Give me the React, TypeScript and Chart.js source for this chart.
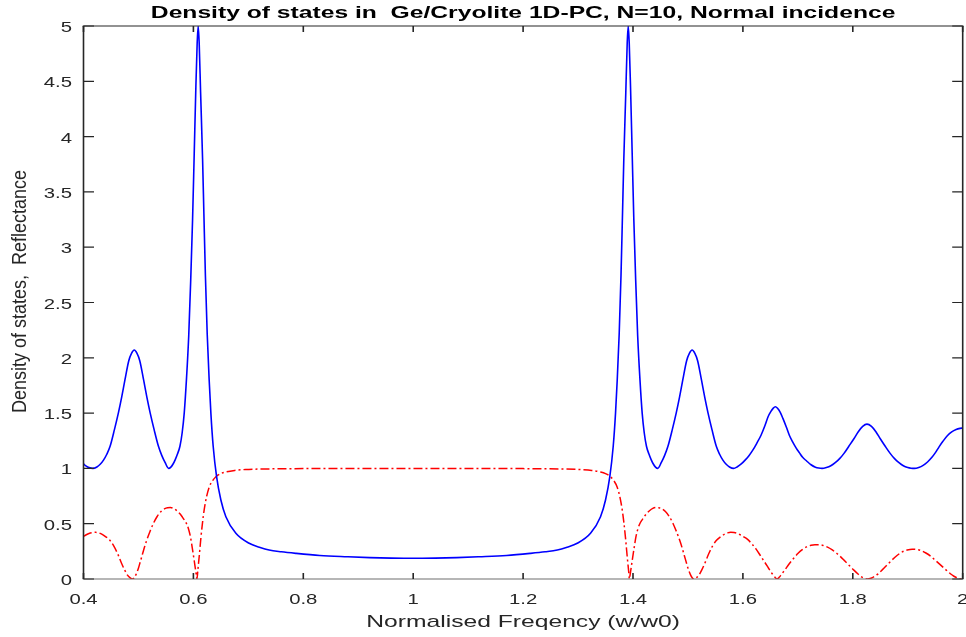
import React, { useEffect, useRef } from 'react';
import { Chart, registerables } from 'chart.js';

Chart.register(...registerables);

// Density of states (blue, solid)
const dosX = [
  0.4000, 0.4050, 0.4100, 0.4170, 0.4244, 0.4304, 0.4364, 0.4424, 0.4484, 0.4564,
  0.4634, 0.4694, 0.4754, 0.4824, 0.4874, 0.4924, 0.4974, 0.5024, 0.5094, 0.5154,
  0.5214, 0.5284, 0.5364, 0.5424, 0.5484, 0.5550, 0.5590, 0.5630, 0.5670, 0.5710,
  0.5755, 0.5795, 0.5833, 0.5873, 0.5915, 0.5951, 0.5985, 0.6015, 0.6045, 0.6069,
  0.6087, 0.6105, 0.6131, 0.6167, 0.6191, 0.6218, 0.6251, 0.6287, 0.6318, 0.6360,
  0.6422, 0.6500, 0.6591, 0.6773, 0.7015, 0.7200, 0.7378, 0.7600, 0.7864, 0.8300,
  0.8800, 0.9209, 0.9600, 1.0000, 1.0400, 1.0791, 1.1200, 1.1700, 1.2136, 1.2400,
  1.2622, 1.2800, 1.2985, 1.3227, 1.3409, 1.3500, 1.3578, 1.3640, 1.3682, 1.3713,
  1.3749, 1.3782, 1.3809, 1.3833, 1.3869, 1.3895, 1.3913, 1.3931, 1.3955, 1.3985,
  1.4015, 1.4049, 1.4085, 1.4127, 1.4167, 1.4205, 1.4245, 1.4290, 1.4330, 1.4370,
  1.4410, 1.4450, 1.4516, 1.4576, 1.4636, 1.4716, 1.4786, 1.4846, 1.4906, 1.4976,
  1.5026, 1.5076, 1.5126, 1.5176, 1.5246, 1.5306, 1.5366, 1.5436, 1.5516, 1.5576,
  1.5636, 1.5696, 1.5756, 1.5830, 1.5900, 1.5970, 1.6040, 1.6110, 1.6180, 1.6250,
  1.6330, 1.6400, 1.6460, 1.6510, 1.6550, 1.6590, 1.6630, 1.6680, 1.6730, 1.6790,
  1.6845, 1.6900, 1.6970, 1.7030, 1.7087, 1.7160, 1.7240, 1.7320, 1.7380, 1.7440,
  1.7520, 1.7600, 1.7680, 1.7760, 1.7840, 1.7928, 1.8020, 1.8100, 1.8180, 1.8258,
  1.8340, 1.8420, 1.8500, 1.8590, 1.8680, 1.8760, 1.8840, 1.8920, 1.9000, 1.9060,
  1.9120, 1.9200, 1.9280, 1.9360, 1.9440, 1.9500, 1.9570, 1.9640, 1.9720, 1.9800,
  1.9880, 1.9950, 2.0000,
];
const dosY = [
  1.040, 1.020, 1.007, 1.000, 1.013, 1.037, 1.075, 1.128, 1.200, 1.353,
  1.500, 1.642, 1.800, 1.974, 2.040, 2.070, 2.040, 1.974, 1.800, 1.642,
  1.500, 1.353, 1.200, 1.118, 1.054, 1.000, 1.012, 1.040, 1.080, 1.130,
  1.200, 1.320, 1.500, 1.800, 2.200, 2.700, 3.250, 3.850, 4.450, 4.850,
  5.000, 4.850, 4.400, 3.800, 3.300, 2.750, 2.220, 1.800, 1.500, 1.200,
  0.925, 0.714, 0.563, 0.413, 0.323, 0.288, 0.262, 0.246, 0.232, 0.213,
  0.201, 0.193, 0.189, 0.187, 0.189, 0.193, 0.201, 0.213, 0.232, 0.246,
  0.262, 0.288, 0.323, 0.413, 0.563, 0.714, 0.925, 1.200, 1.500, 1.800,
  2.220, 2.750, 3.300, 3.800, 4.400, 4.850, 5.000, 4.850, 4.450, 3.850,
  3.250, 2.700, 2.200, 1.800, 1.500, 1.320, 1.200, 1.130, 1.080, 1.040,
  1.012, 1.000, 1.054, 1.118, 1.200, 1.353, 1.500, 1.642, 1.800, 1.974,
  2.040, 2.070, 2.040, 1.974, 1.800, 1.642, 1.500, 1.353, 1.200, 1.128,
  1.075, 1.037, 1.013, 1.000, 1.015, 1.040, 1.075, 1.115, 1.165, 1.225,
  1.300, 1.385, 1.469, 1.515, 1.543, 1.558, 1.544, 1.507, 1.450, 1.374,
  1.300, 1.245, 1.184, 1.140, 1.100, 1.067, 1.033, 1.011, 1.003, 1.000,
  1.008, 1.024, 1.052, 1.088, 1.136, 1.200, 1.268, 1.332, 1.380, 1.400,
  1.380, 1.332, 1.268, 1.200, 1.136, 1.088, 1.052, 1.024, 1.008, 1.002,
  1.000, 1.008, 1.027, 1.058, 1.100, 1.140, 1.195, 1.245, 1.295, 1.330,
  1.352, 1.362, 1.365,
];

// Reflectance (red, dash-dot)
const refX = [
  0.400, 0.405, 0.410, 0.416, 0.422, 0.428, 0.434, 0.440, 0.448, 0.455,
  0.462, 0.469, 0.475, 0.480, 0.485, 0.489, 0.492, 0.4955, 0.4995, 0.5027,
  0.5065, 0.5105, 0.515, 0.521, 0.527, 0.534, 0.541, 0.548, 0.553, 0.558,
  0.564, 0.570, 0.5755, 0.580, 0.584, 0.5876, 0.591, 0.5945, 0.598, 0.6015,
  0.604, 0.6055, 0.6065, 0.608, 0.6105, 0.6136, 0.6166, 0.6196, 0.624, 0.6287,
  0.635, 0.641, 0.650, 0.659, 0.675, 0.695, 0.730, 0.800, 0.900, 1.000,
  1.100, 1.200, 1.270, 1.305, 1.325, 1.341, 1.350, 1.359, 1.365, 1.3713,
  1.376, 1.3804, 1.3834, 1.3864, 1.3895, 1.392, 1.3935, 1.3945, 1.396, 1.3985,
  1.402, 1.4055, 1.409, 1.4124, 1.416, 1.420, 1.4245, 1.430, 1.436, 1.442,
  1.447, 1.452, 1.459, 1.466, 1.473, 1.479, 1.485, 1.4895, 1.4935, 1.4973,
  1.5005, 1.5045, 1.508, 1.511, 1.515, 1.520, 1.525, 1.531, 1.538, 1.545,
  1.552, 1.560, 1.566, 1.572, 1.578, 1.584, 1.590, 1.595, 1.600, 1.608,
  1.616, 1.624, 1.632, 1.640, 1.647, 1.653, 1.658, 1.662, 1.666, 1.670,
  1.676, 1.684, 1.692, 1.700, 1.708, 1.716, 1.724, 1.731, 1.738, 1.746,
  1.754, 1.762, 1.770, 1.778, 1.786, 1.794, 1.802, 1.809, 1.815, 1.821,
  1.827, 1.833, 1.839, 1.846, 1.854, 1.863, 1.872, 1.881, 1.890, 1.899,
  1.908, 1.916, 1.924, 1.933, 1.942, 1.951, 1.960, 1.969, 1.977, 1.984,
  1.991, 1.997, 2.000,
];
const refY = [
  0.385, 0.400, 0.412, 0.420, 0.422, 0.417, 0.404, 0.384, 0.350, 0.300,
  0.230, 0.145, 0.080, 0.035, 0.010, 0.000, 0.009, 0.040, 0.090, 0.145,
  0.210, 0.280, 0.350, 0.430, 0.500, 0.565, 0.610, 0.636, 0.644, 0.646,
  0.638, 0.617, 0.590, 0.560, 0.530, 0.500, 0.455, 0.385, 0.280, 0.165,
  0.080, 0.030, 0.000, 0.075, 0.200, 0.370, 0.510, 0.625, 0.745, 0.830,
  0.890, 0.925, 0.953, 0.968, 0.982, 0.990, 0.995, 0.998, 1.000, 1.000,
  1.000, 0.998, 0.995, 0.990, 0.982, 0.968, 0.953, 0.925, 0.890, 0.830,
  0.745, 0.625, 0.510, 0.370, 0.200, 0.075, 0.000, 0.030, 0.080, 0.165,
  0.280, 0.385, 0.455, 0.500, 0.530, 0.560, 0.590, 0.617, 0.638, 0.646,
  0.644, 0.636, 0.610, 0.565, 0.500, 0.430, 0.350, 0.280, 0.210, 0.145,
  0.090, 0.040, 0.009, 0.000, 0.010, 0.035, 0.080, 0.145, 0.230, 0.300,
  0.350, 0.384, 0.404, 0.417, 0.422, 0.420, 0.412, 0.400, 0.385, 0.360,
  0.320, 0.270, 0.210, 0.150, 0.095, 0.050, 0.018, 0.000, 0.015, 0.040,
  0.080, 0.135, 0.185, 0.230, 0.265, 0.290, 0.305, 0.310, 0.310, 0.303,
  0.288, 0.265, 0.235, 0.200, 0.160, 0.120, 0.080, 0.047, 0.022, 0.007,
  0.000, 0.007, 0.022, 0.047, 0.085, 0.130, 0.175, 0.215, 0.245, 0.262,
  0.270, 0.268, 0.258, 0.235, 0.205, 0.165, 0.125, 0.085, 0.050, 0.025,
  0.008, 0.000, 0.000,
];

const xTicks = [0.4, 0.6, 0.8, 1.0, 1.2, 1.4, 1.6, 1.8, 2.0];
const xTickLabels = ['0.4', '0.6', '0.8', '1', '1.2', '1.4', '1.6', '1.8', '2'];
const yTicks = [0, 0.5, 1, 1.5, 2, 2.5, 3, 3.5, 4, 4.5, 5];
const yTickLabels = ['0', '0.5', '1', '1.5', '2', '2.5', '3', '3.5', '4', '4.5', '5'];

const titleText = 'Density of states in  Ge/Cryolite 1D-PC, N=10, Normal incidence';
const xTitleText = 'Normalised Freqency (w/w0)';
const yTitleText = 'Density of states,  Reflectance';

const FONT = '"Liberation Sans", Arial, Helvetica, sans-serif';
const SX = 1.45;
const AXIS = '#262626';

function stretchedText(
  ctx: CanvasRenderingContext2D,
  text: string,
  x: number,
  y: number,
  align: CanvasTextAlign,
  sx: number,
) {
  ctx.save();
  ctx.translate(x, y);
  ctx.scale(sx, 1);
  ctx.textAlign = align;
  ctx.textBaseline = 'alphabetic';
  ctx.fillText(text, 0, 0);
  ctx.restore();
}

const matlabAxes = {
  id: 'matlabAxes',
  afterDraw(chart: any) {
    const { ctx, chartArea: a, scales } = chart;
    const xs = scales.x;
    const ys = scales.y;
    ctx.save();

    // box
    ctx.lineCap = 'butt';
    ctx.strokeStyle = AXIS;
    ctx.lineWidth = 1.6;
    ctx.beginPath();
    ctx.moveTo(a.left, a.top);
    ctx.lineTo(a.left, a.bottom);
    ctx.moveTo(a.right, a.top);
    ctx.lineTo(a.right, a.bottom);
    ctx.stroke();
    ctx.lineWidth = 1.2;
    ctx.beginPath();
    ctx.moveTo(a.left - 0.8, a.top);
    ctx.lineTo(a.right + 0.8, a.top);
    ctx.stroke();
    ctx.strokeStyle = '#6e6e6e';
    ctx.beginPath();
    ctx.moveTo(a.left - 0.8, a.bottom);
    ctx.lineTo(a.right + 0.8, a.bottom);
    ctx.stroke();

    // ticks (inside, all four sides)
    ctx.strokeStyle = AXIS;
    ctx.lineWidth = 1.6;
    ctx.beginPath();
    xTicks.forEach((v) => {
      const px = xs.getPixelForValue(v);
      ctx.moveTo(px, a.bottom);
      ctx.lineTo(px, a.bottom - 6);
      ctx.moveTo(px, a.top);
      ctx.lineTo(px, a.top + 6);
    });
    ctx.stroke();
    ctx.lineWidth = 1.2;
    ctx.beginPath();
    yTicks.forEach((v) => {
      const py = ys.getPixelForValue(v);
      ctx.moveTo(a.left, py);
      ctx.lineTo(a.left + 10.5, py);
      ctx.moveTo(a.right, py);
      ctx.lineTo(a.right - 10.5, py);
    });
    ctx.stroke();

    // tick labels
    ctx.fillStyle = AXIS;
    ctx.font = `14px ${FONT}`;
    xTicks.forEach((v, i) => {
      stretchedText(ctx, xTickLabels[i], xs.getPixelForValue(v), a.bottom + 24.5, 'center', SX);
    });
    yTicks.forEach((v, i) => {
      stretchedText(ctx, yTickLabels[i], a.left - 11.5, ys.getPixelForValue(v) + 6, 'right', SX);
    });

    const cx = (a.left + a.right) / 2;

    // x axis title
    ctx.font = `17px ${FONT}`;
    stretchedText(ctx, xTitleText, cx, a.bottom + 47.5, 'center', SX);

    // title
    ctx.fillStyle = '#000';
    ctx.font = `bold 17px ${FONT}`;
    stretchedText(ctx, titleText, cx, a.top - 8.5, 'center', SX);

    // y axis title (rotated)
    ctx.fillStyle = AXIS;
    ctx.font = `18px ${FONT}`;
    ctx.save();
    ctx.translate(a.left - 57.5, (a.top + a.bottom) / 2 - 11);
    ctx.scale(1.1, 1);
    ctx.rotate(-Math.PI / 2);
    ctx.textAlign = 'center';
    ctx.textBaseline = 'alphabetic';
    ctx.fillText(yTitleText, 0, 0);
    ctx.restore();

    ctx.restore();
  },
};

export default function App() {
  const canvasRef = useRef<HTMLCanvasElement | null>(null);

  useEffect(() => {
    if (!canvasRef.current) return;
    const chart = new Chart(canvasRef.current, {
      type: 'scatter',
      data: {
        datasets: [
          {
            label: 'Density of states',
            data: dosX.map((x, i) => ({ x, y: dosY[i] })),
            showLine: true,
            borderColor: '#0000ff',
            backgroundColor: '#0000ff',
            borderWidth: 1.6,
            pointRadius: 0,
            cubicInterpolationMode: 'monotone',
            fill: false,
          },
          {
            label: 'Reflectance',
            data: refX.map((x, i) => ({ x, y: refY[i] })),
            showLine: true,
            borderColor: '#ff0000',
            backgroundColor: '#ff0000',
            borderWidth: 1.5,
            borderDash: [9, 3, 2, 3],
            pointRadius: 0,
            cubicInterpolationMode: 'monotone',
            fill: false,
          },
        ],
      },
      options: {
        animation: false,
        responsive: false,
        maintainAspectRatio: false,
        layout: { padding: { top: 26, right: 3.3, left: 0, bottom: 0 } },
        plugins: {
          legend: { display: false },
          title: { display: false },
          tooltip: { enabled: false },
        },
        scales: {
          x: {
            type: 'linear',
            min: 0.4,
            max: 2,
            ticks: { display: false, stepSize: 0.2 },
            grid: { display: false, drawTicks: false },
            border: { display: false },
            afterFit: (s: any) => {
              s.height = 58;
            },
          },
          y: {
            type: 'linear',
            min: 0,
            max: 5,
            ticks: { display: false, stepSize: 0.5 },
            grid: { display: false, drawTicks: false },
            border: { display: false },
            afterFit: (s: any) => {
              s.width = 83.5;
            },
          },
        },
      } as any,
      plugins: [matlabAxes],
    });
    return () => chart.destroy();
  }, []);

  return (
    <div style={{ position: 'absolute', left: 0, top: 0, width: 966, height: 637, background: '#fff' }}>
      <canvas ref={canvasRef} width={966} height={637} style={{ display: 'block' }} />
    </div>
  );
}
